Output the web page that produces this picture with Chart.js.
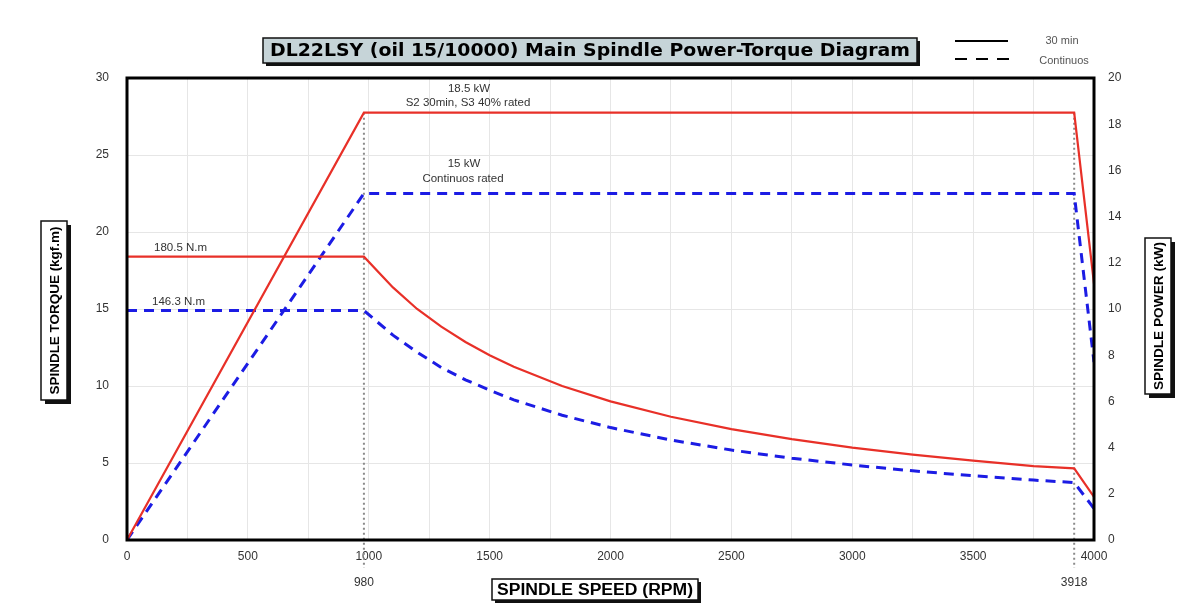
<!DOCTYPE html>
<html><head><meta charset="utf-8">
<script src="https://cdn.jsdelivr.net/npm/chart.js@4"></script>
<style>html,body{margin:0;padding:0;background:#fff}#wrap{width:1192px;height:616px;position:relative}</style>
</head><body><div id="wrap"><canvas id="c" width="1192" height="616"></canvas></div>
<script>
// ---- data ----
const powerSpeeds = [0, 980, 3918, 4000];
const power30 = [0, 18.5, 18.5, 11.1];          // kW, S2 30min
const powerCont = [0, 15, 15, 7.7];             // kW, continuous
const torqueSpeeds = [0, 980, 1100, 1200, 1300, 1400, 1500, 1600, 1800, 2000, 2250, 2500, 2750, 3000, 3250, 3500, 3750, 3918, 4000];
const torque30 = [18.4, 18.4, 16.4, 15.0, 13.85, 12.86, 12.0, 11.25, 10.0, 9.0, 8.0, 7.2, 6.55, 6.0, 5.54, 5.15, 4.8, 4.65, 2.8];   // kgf.m
const torqueCont = [14.9, 14.9, 13.3, 12.2, 11.2, 10.4, 9.73, 9.1, 8.1, 7.3, 6.49, 5.84, 5.31, 4.87, 4.49, 4.17, 3.89, 3.73, 2.05];
const markerSpeeds = [980, 3918];
const titleText = 'DL22LSY (oil 15/10000) Main Spindle Power-Torque Diagram';
const xTitle = 'SPINDLE SPEED (RPM)';
const yTitle = 'SPINDLE TORQUE (kgf.m)';
const y2Title = 'SPINDLE POWER (kW)';
const legendLabels = ['30 min', 'Continuos'];

const RED = 'rgb(232,48,40)';
const BLUE = 'rgb(28,28,228)';
const pts = (xs, ys) => xs.map((x, i) => ({x, y: ys[i]}));
const FONT = '"Liberation Sans", Arial, sans-serif';

function boxText(ctx, x, y, w, h, text, opts) {
  ctx.save();
  ctx.fillStyle = '#111';
  ctx.fillRect(x + opts.sh, y + opts.sh, w, h);
  ctx.fillStyle = opts.fill;
  ctx.fillRect(x, y, w, h);
  ctx.strokeStyle = '#111';
  ctx.lineWidth = 1.5;
  ctx.strokeRect(x, y, w, h);
  ctx.fillStyle = '#000';
  ctx.textAlign = 'center';
  ctx.textBaseline = 'middle';
  ctx.font = 'bold ' + opts.size + 'px ' + opts.font;
  const tw = ctx.measureText(text).width;
  ctx.translate(x + w / 2, y + h / 2);
  if (opts.rot) ctx.rotate(-Math.PI / 2);
  ctx.scale(opts.tw / tw, 1);
  ctx.fillText(text, 0, 1);
  ctx.restore();
}

const deco = {
  id: 'deco',
  beforeDatasetsDraw(chart) {
    const ctx = chart.ctx, xs = chart.scales.x, y2 = chart.scales.y2;
    ctx.save();
    ctx.strokeStyle = '#8a8a8a';
    ctx.lineWidth = 2;
    ctx.setLineDash([2, 3]);
    markerSpeeds.forEach(s => {
      const px = xs.getPixelForValue(s);
      ctx.beginPath();
      ctx.moveTo(px, y2.getPixelForValue(18.5));
      ctx.lineTo(px, chart.chartArea.bottom + 28);
      ctx.stroke();
    });
    ctx.restore();
  },
  afterDraw(chart) {
    const ctx = chart.ctx, a = chart.chartArea, xs = chart.scales.x;
    ctx.save();
    ctx.strokeStyle = '#000';
    ctx.lineWidth = 3;
    ctx.strokeRect(a.left, a.top, a.right - a.left, a.bottom - a.top);
    ctx.fillStyle = '#333';
    ctx.font = '12px ' + FONT;
    ctx.textAlign = 'center';
    ctx.textBaseline = 'middle';
    markerSpeeds.forEach(s => ctx.fillText(String(s), xs.getPixelForValue(s), 583));
    ctx.font = '11.5px ' + FONT;
    ctx.fillStyle = '#333';
    ctx.fillText('18.5 kW', 469, 89);
    ctx.fillText('S2 30min, S3 40% rated', 468, 103);
    ctx.fillText('15 kW', 464, 164);
    ctx.fillText('Continuos rated', 463, 179);
    ctx.textAlign = 'left';
    ctx.fillText('180.5 N.m', 154, 248);
    ctx.fillText('146.3 N.m', 152, 302);
    ctx.strokeStyle = '#000';
    ctx.lineWidth = 2;
    ctx.beginPath(); ctx.moveTo(955, 41); ctx.lineTo(1008, 41); ctx.stroke();
    ctx.setLineDash([12, 9]);
    ctx.beginPath(); ctx.moveTo(955, 59); ctx.lineTo(1010, 59); ctx.stroke();
    ctx.setLineDash([]);
    ctx.fillStyle = '#555';
    ctx.font = '11px ' + FONT;
    ctx.textAlign = 'center';
    ctx.fillText(legendLabels[0], 1062, 41);
    ctx.fillText(legendLabels[1], 1064, 61);
    ctx.restore();
    boxText(ctx, 263, 38, 654, 25, titleText, {fill: '#c6d4d8', sh: 3, size: 17, tw: 640, font: '"DejaVu Sans", sans-serif'});
    boxText(ctx, 41, 221, 26, 179, yTitle, {fill: '#fff', sh: 4, size: 13, tw: 168, rot: true, font: FONT});
    boxText(ctx, 1145, 238, 26, 156, y2Title, {fill: '#fff', sh: 4, size: 13, tw: 148, rot: true, font: FONT});
    boxText(ctx, 492, 579, 206, 21, xTitle, {fill: '#fff', sh: 3, size: 16, tw: 196, font: FONT});
  }
};

new Chart(document.getElementById('c'), {
  type: 'line',
  data: {
    datasets: [
      {data: pts(powerSpeeds, power30), yAxisID: 'y2', borderColor: RED, borderWidth: 2.2},
      {data: pts(torqueSpeeds, torque30), yAxisID: 'y', borderColor: RED, borderWidth: 2.2},
      {data: pts(powerSpeeds, powerCont), yAxisID: 'y2', borderColor: BLUE, borderWidth: 3, borderDash: [10, 7]},
      {data: pts(torqueSpeeds, torqueCont), yAxisID: 'y', borderColor: BLUE, borderWidth: 3, borderDash: [10, 7]}
    ]
  },
  options: {
    responsive: false,
    animation: false,
    elements: {point: {radius: 0}, line: {tension: 0}},
    layout: {padding: {top: 78, left: 0, right: 0, bottom: 0}},
    plugins: {legend: {display: false}, tooltip: {enabled: false}, title: {display: false}},
    scales: {
      x: {
        type: 'linear', min: 0, max: 4000,
        ticks: {stepSize: 250, autoSkip: false, maxRotation: 0, padding: 9, color: '#333',
          font: {family: FONT, size: 12}, callback: v => (v % 500 === 0 ? String(v) : '')},
        grid: {color: '#e6e6e6', drawTicks: false},
        border: {display: false},
        afterFit: s => { s.height = 76; }
      },
      y: {
        position: 'left', min: 0, max: 30,
        ticks: {stepSize: 5, padding: 18, color: '#333', font: {family: FONT, size: 12}},
        grid: {color: '#e6e6e6', drawTicks: false},
        border: {display: false},
        afterFit: s => { s.width = 127; }
      },
      y2: {
        position: 'right', min: 0, max: 20,
        ticks: {stepSize: 2, padding: 14, color: '#333', font: {family: FONT, size: 12}},
        grid: {drawOnChartArea: false, drawTicks: false},
        border: {display: false},
        afterFit: s => { s.width = 98; }
      }
    }
  },
  plugins: [deco]
});
</script>
</body></html>
